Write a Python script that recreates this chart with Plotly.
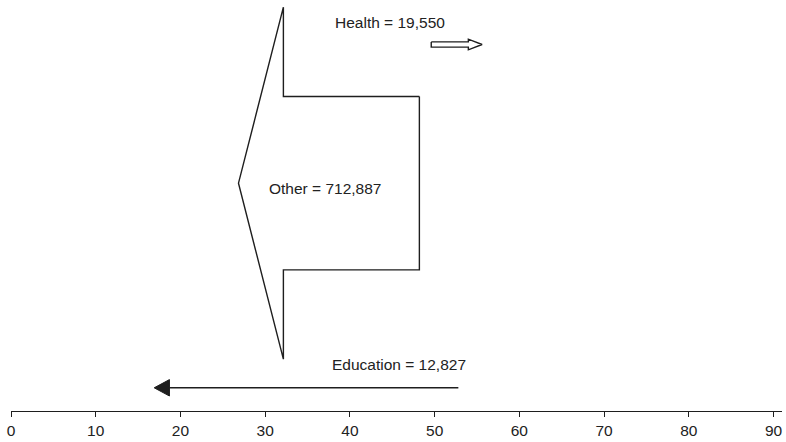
import plotly.graph_objects as go

# ---- data ----
categories = ["Health", "Other", "Education"]
values = [19550, 712887, 12827]
flow_start = [49.6, 48.2, 52.8]   # x where each arrow begins
flow_end = [55.6, 26.85, 16.9]    # x where each arrow's tip is
tick_vals = [0, 10, 20, 30, 40, 50, 60, 70, 80, 90]

# ---- layout / style (not data) ----
lane_y = [366.5, 227.8, 23.2]      # vertical lane of each arrow (plot units = px)
head_len = [1.62, 5.3, 1.8]        # arrowhead length in x units
styles = ["hollow", "hollow", "line"]
label_pos = [(44.7, 388.5), (37.1, 222.5), (45.8, 47)]
px_per_value = 86.7 / 712887       # shaft half-height per value unit
ink = "#1e1e1e"

fig = go.Figure()

for cat, v, x0, x1, yc, hl, st, (lx, ly) in zip(
        categories, values, flow_start, flow_end, lane_y, head_len, styles, label_pos):
    d = 1 if x1 > x0 else -1
    neck = x1 - d * hl
    if st == "hollow":
        hw = max(v * px_per_value, 2.6)
        hh = 2.03 * hw
        xs = [x0, neck, neck, x1, neck, neck, x0, x0]
        ys = [yc + hw, yc + hw, yc + hh, yc, yc - hh, yc - hw, yc - hw, yc + hw]
        fig.add_trace(go.Scatter(x=xs, y=ys, mode="lines", fill="toself",
                                 fillcolor="white",
                                 line=dict(color=ink, width=1.4),
                                 hoverinfo="skip", showlegend=False))
    else:
        fig.add_trace(go.Scatter(x=[x0, neck], y=[yc, yc], mode="lines",
                                 line=dict(color=ink, width=1.4),
                                 hoverinfo="skip", showlegend=False))
        hh = 8.2
        fig.add_trace(go.Scatter(x=[neck, x1, neck, neck], y=[yc + hh, yc, yc - hh, yc + hh],
                                 mode="lines", fill="toself", fillcolor=ink,
                                 line=dict(color=ink, width=1),
                                 hoverinfo="skip", showlegend=False))
    fig.add_annotation(x=lx, y=ly, text=f"{cat} = {v:,}", showarrow=False,
                       font=dict(family="Liberation Sans, Arial", size=15.5, color="#222"))

fig.update_layout(
    width=786, height=442,
    margin=dict(l=11, r=4, t=0, b=31),
    paper_bgcolor="white", plot_bgcolor="white",
    xaxis=dict(range=[0, 91], tickvals=tick_vals, showgrid=False, zeroline=False,
               showline=True, linecolor=ink, linewidth=1.4,
               ticks="outside", ticklen=5, tickcolor=ink, tickwidth=1.2,
               tickfont=dict(family="Liberation Sans, Arial", size=15.5, color="#222")),
    yaxis=dict(range=[0, 411], visible=False, fixedrange=True),
)

fig.write_html("out.html", config={"displayModeBar": False},
               post_script="document.body.style.margin='0';")
